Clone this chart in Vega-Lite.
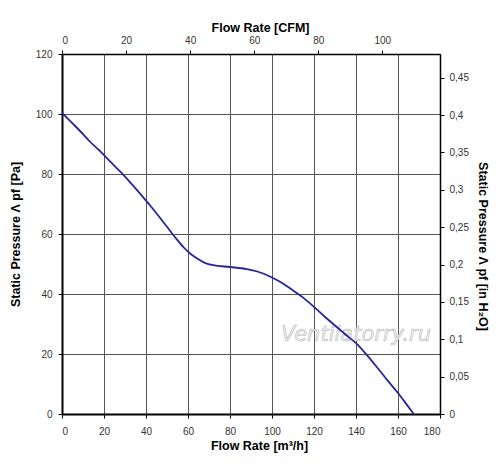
{
  "$schema": "https://vega.github.io/schema/vega-lite/v6.json",
  "width": 378,
  "height": 360,
  "autosize": {"type": "none"},
  "padding": {"left": 62, "top": 54, "right": 60, "bottom": 57},
  "background": "white",
  "config": {
    "view": {"stroke": null},
    "axis": {
      "labelFont": "Liberation Sans",
      "titleFont": "Liberation Sans",
      "labelFontSize": 10,
      "labelColor": "#333333",
      "titleFontSize": 12.5,
      "titleFontWeight": "bold",
      "titleColor": "#000000",
      "tickColor": "#000000",
      "domainColor": "#000000",
      "tickSize": 4,
      "gridColor": "#555555",
      "gridWidth": 1,
      "gridOpacity": 1
    }
  },
  "resolve": {
    "scale": {"x": "independent", "y": "independent"},
    "axis": {"x": "independent", "y": "independent"}
  },
  "layer": [
    {
      "layer": [
        {
          "data": {"values": [{"label": "Ventilatorry.ru", "flow": 140, "pa": 26.2}]},
          "mark": {"type": "text", "font": "DejaVu Sans", "fontStyle": "italic", "fontSize": 21, "fill": "#efefef", "stroke": "#bcbcbc", "strokeWidth": 0.6, "align": "center", "baseline": "middle"},
          "encoding": {
            "x": {"field": "flow", "type": "quantitative"},
            "y": {"field": "pa", "type": "quantitative"},
            "text": {"field": "label"}
          }
        },
        {
          "data": {"values": [
            {"flow": 0, "pa": 100.4},
            {"flow": 5, "pa": 96.9},
            {"flow": 10, "pa": 93.3},
            {"flow": 13, "pa": 91},
            {"flow": 18, "pa": 87.7},
            {"flow": 23, "pa": 84.1},
            {"flow": 28, "pa": 80.6},
            {"flow": 33, "pa": 76.8},
            {"flow": 38, "pa": 72.8},
            {"flow": 42, "pa": 69.5},
            {"flow": 46, "pa": 66},
            {"flow": 50, "pa": 62.4},
            {"flow": 54, "pa": 58.8},
            {"flow": 58, "pa": 55.5},
            {"flow": 61, "pa": 53.5},
            {"flow": 64, "pa": 52},
            {"flow": 68, "pa": 50.4},
            {"flow": 72, "pa": 49.6},
            {"flow": 80, "pa": 49},
            {"flow": 88, "pa": 48.3},
            {"flow": 93, "pa": 47.5},
            {"flow": 97, "pa": 46.5},
            {"flow": 100, "pa": 45.5},
            {"flow": 105, "pa": 43.6},
            {"flow": 110, "pa": 41.2},
            {"flow": 115, "pa": 38.7},
            {"flow": 120, "pa": 35.7},
            {"flow": 125, "pa": 32.5},
            {"flow": 130, "pa": 29.5},
            {"flow": 135, "pa": 26.5},
            {"flow": 140, "pa": 23.6},
            {"flow": 145, "pa": 19.8},
            {"flow": 150, "pa": 15.6},
            {"flow": 155, "pa": 11.2},
            {"flow": 160, "pa": 7},
            {"flow": 164, "pa": 3.3},
            {"flow": 167.5, "pa": 0}
          ]},
          "mark": {"type": "line", "color": "#26269c", "strokeWidth": 1.8, "interpolate": "monotone"},
          "encoding": {
            "x": {
              "field": "flow", "type": "quantitative",
              "scale": {"domain": [0, 180], "nice": false, "zero": true},
              "axis": {"orient": "bottom", "values": [0, 20, 40, 60, 80, 100, 120, 140, 160, 180], "grid": true, "domainWidth": 2, "labelPadding": 8, "titlePadding": 3, "title": "Flow Rate [m³/h]", "titleX": 197}
            },
            "y": {
              "field": "pa", "type": "quantitative",
              "scale": {"domain": [0, 120], "nice": false},
              "axis": {"orient": "left", "values": [0, 20, 40, 60, 80, 100, 120], "grid": true, "domainWidth": 2, "labelPadding": 6, "titlePadding": 13, "title": "Static Pressure Λ pf [Pa]"}
            }
          }
        }
      ]
    },
    {
      "data": {"values": [{}]},
      "mark": {"type": "point", "opacity": 0},
      "encoding": {
        "x": {
          "datum": 0, "type": "quantitative",
          "scale": {"domain": [0, 118], "nice": false},
          "axis": {"orient": "top", "values": [0, 20, 40, 60, 80, 100], "grid": false, "domainWidth": 1.5, "labelPadding": 5, "titlePadding": 1, "title": "Flow Rate [CFM]", "titleX": 198}
        },
        "y": {
          "datum": 0, "type": "quantitative",
          "scale": {"domain": [0, 0.4818], "nice": false},
          "axis": {"orient": "right", "values": [0, 0.05, 0.1, 0.15, 0.2, 0.25, 0.3, 0.35, 0.4, 0.45], "grid": false, "domainWidth": 1.5, "labelPadding": 5, "titlePadding": 7, "titleY": 192, "title": "Static Pressure Λ pf [in H₂O]", "labelExpr": "replace(format(datum.value, '.2~f'), '.', ',')"}
        }
      }
    }
  ]
}
